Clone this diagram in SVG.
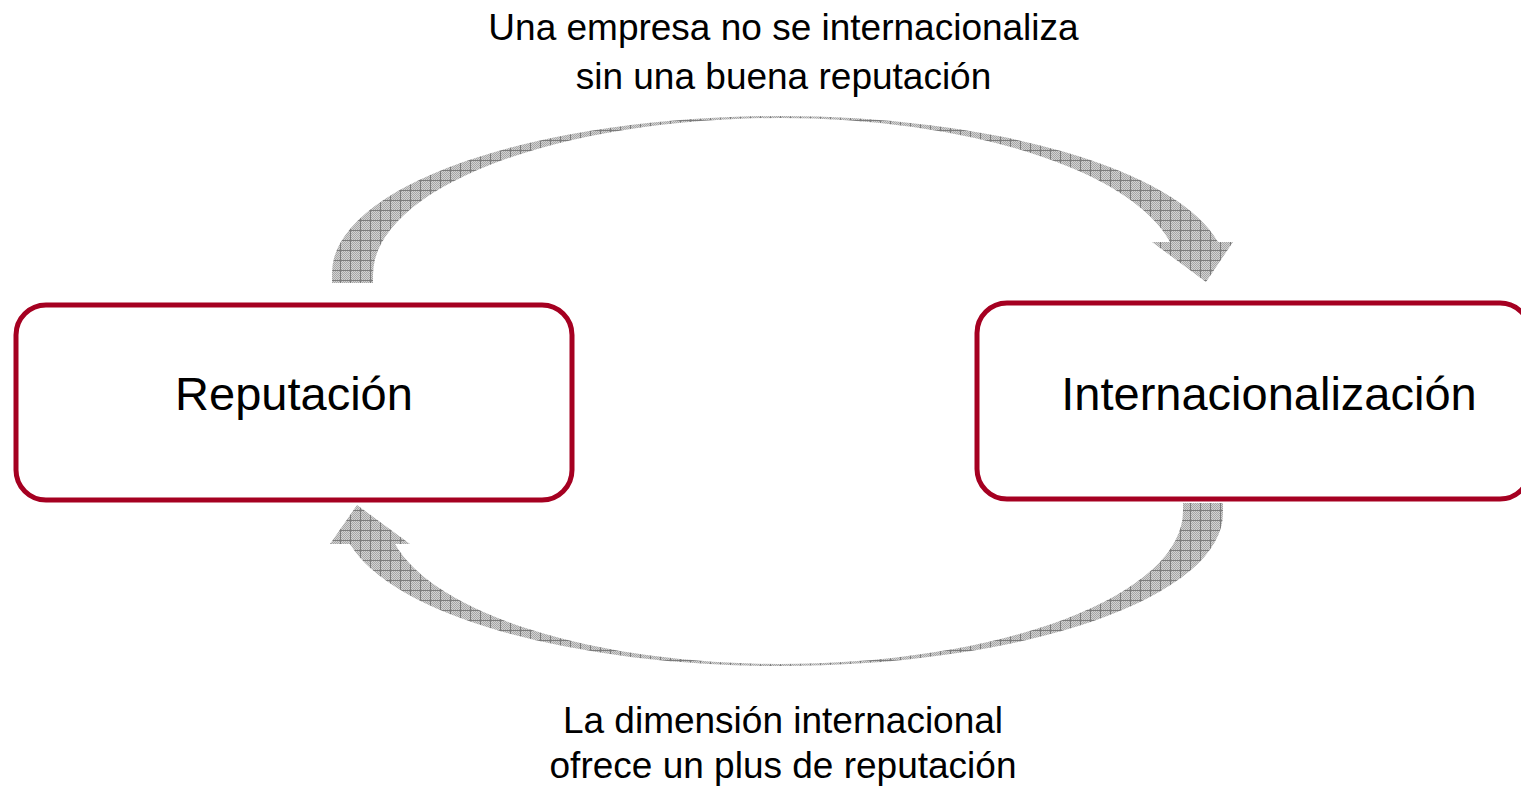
<svg xmlns="http://www.w3.org/2000/svg" width="1521" height="790" viewBox="0 0 1521 790">
  <style>
    .box { fill: #ffffff; stroke: #A50021; stroke-width: 5; }
    .node-label { font-family: "Liberation Sans", Arial, sans-serif; font-size: 47px; fill: #000000; text-anchor: middle; }
    .edge-label { font-family: "Liberation Sans", Arial, sans-serif; font-size: 37px; fill: #000000; text-anchor: middle; }
    .arrow { fill: url(#grid); stroke: none; }
  </style>
  <defs>
    <pattern id="dots" width="2" height="2" patternUnits="userSpaceOnUse">
      <rect width="2" height="2" fill="#d2d2d2"/>
      <rect width="1" height="1" fill="#a6a6a6"/>
      <rect x="1" y="1" width="1" height="1" fill="#a6a6a6"/>
    </pattern>
    <pattern id="grid" width="10" height="10" patternUnits="userSpaceOnUse">
      <rect width="10" height="10" fill="url(#dots)"/>
      <path d="M0 0.5 H10 M0.5 0 V10" stroke="#7c7c7c" stroke-width="1" fill="none"/>
    </pattern>
  </defs>
  <rect width="1521" height="790" fill="#ffffff"/>

  <g id="connectors">
    <g id="edge-top">
      <path class="arrow" d="M 332,283 L 332,273 A 448 157 0 0 1 780,116 A 447 157 0 0 1 1218,242 L 1233,242 L 1206,282 L 1152,242 L 1170,242 A 399 157 0 0 0 780,118 A 407 157 0 0 0 373,275 L 373,283 Z"/>
      <text class="edge-label" x="783.5" y="40">Una empresa no se internacionaliza</text>
      <text class="edge-label" x="783.5" y="89">sin una buena reputación</text>
    </g>
    <g id="edge-bottom">
      <path class="arrow" d="M 1223,503 L 1223,513 A 444 153 0 0 1 779,666 A 438 153 0 0 1 350,544 L 330,544 L 357,505 L 410,544 L 395,544 A 393 153 0 0 0 779,664 A 404 153 0 0 0 1183,511 L 1183,503 Z"/>
      <text class="edge-label" x="783" y="733">La dimensión internacional</text>
      <text class="edge-label" x="783" y="778">ofrece un plus de reputación</text>
    </g>
  </g>

  <g id="node-reputacion">
    <rect class="box" x="16" y="305" width="556" height="195" rx="30" ry="30"/>
    <text class="node-label" x="294" y="410">Reputación</text>
  </g>

  <g id="node-internacionalizacion">
    <rect class="box" x="977" y="303" width="553" height="196" rx="30" ry="30"/>
    <text class="node-label" x="1269" y="410">Internacionalización</text>
  </g>
</svg>
